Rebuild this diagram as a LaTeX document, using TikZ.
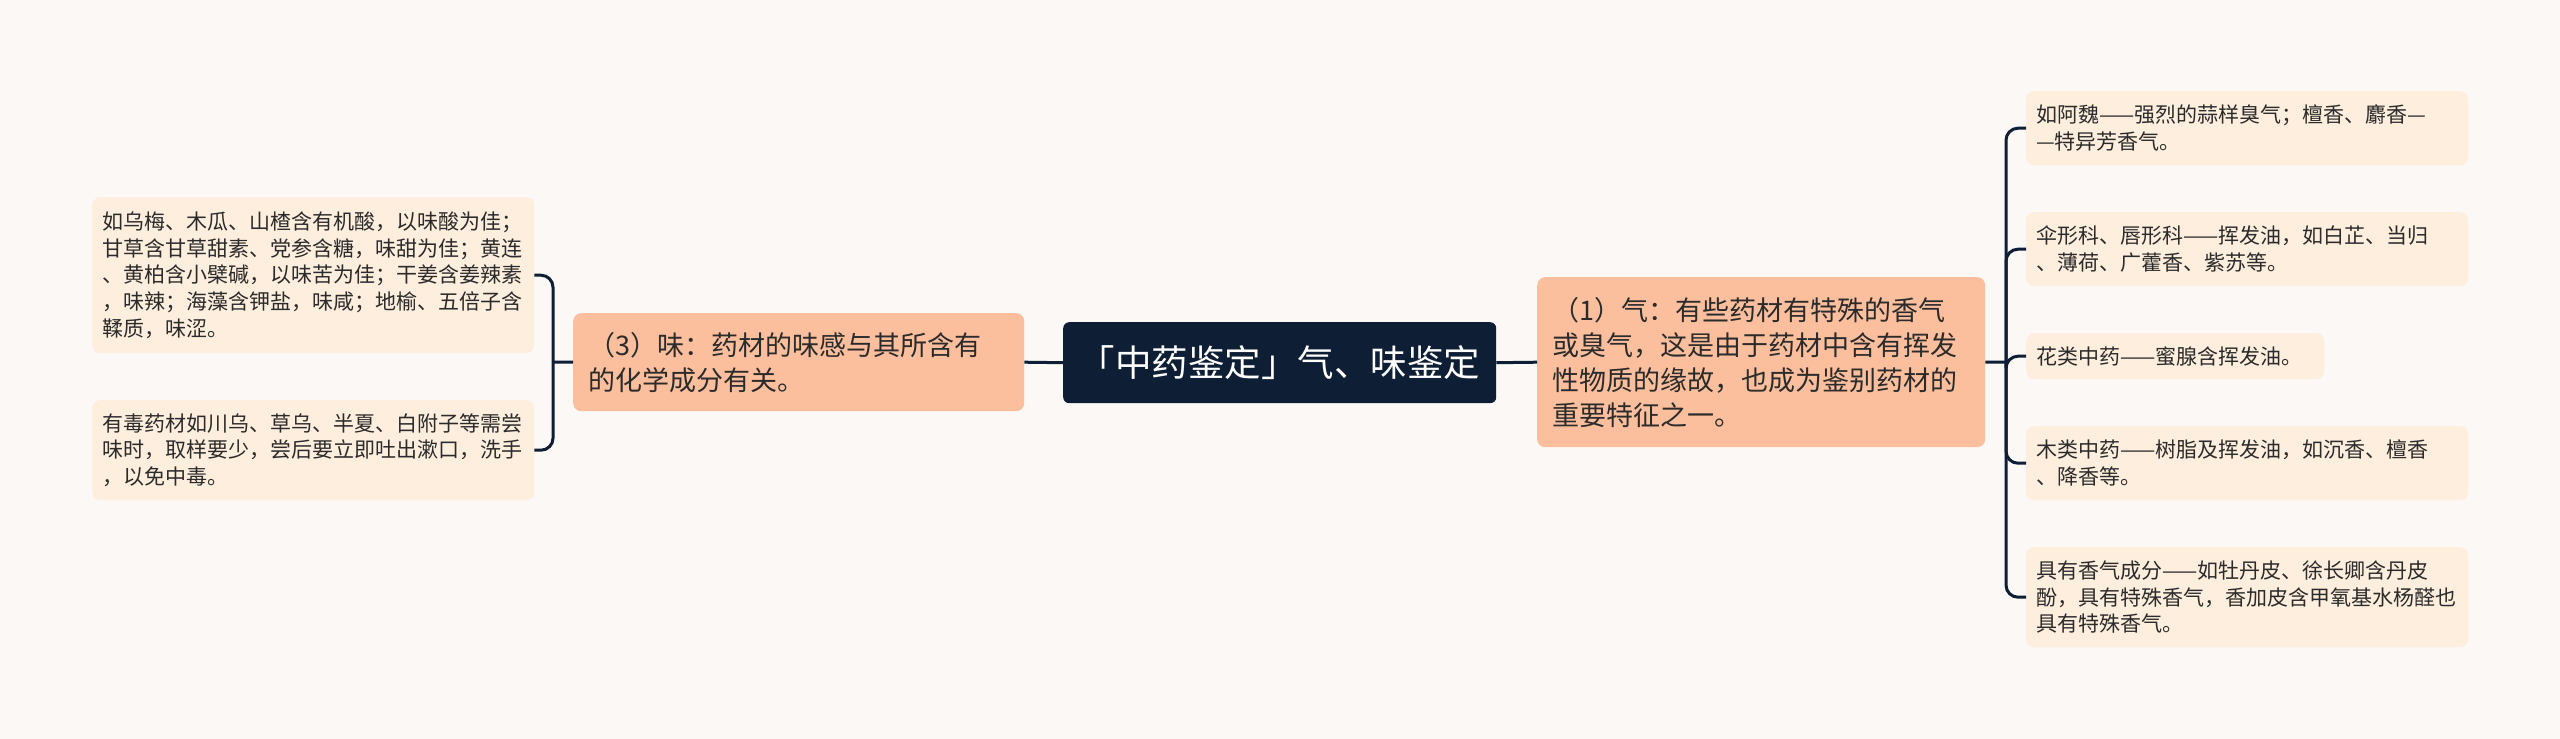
\documentclass[tikz,border=0pt]{standalone}
\usepackage{fontspec}
\setmainfont{Noto Sans CJK SC}
\definecolor{bgc}{HTML}{FCF8F6}
\definecolor{leafc}{HTML}{FDEEDD}
\definecolor{orangec}{HTML}{FCBF9E}
\definecolor{navy}{HTML}{0E1E34}
\definecolor{txt}{HTML}{2B2B2B}
\begin{document}
\begin{tikzpicture}[x=1pt,y=-1pt,
  box/.style={rounded corners=8pt, align=left, inner xsep=10pt, inner ysep=0pt, anchor=north west},
  leaf/.style={box, fill=leafc, text=txt, font=\fontsize{21}{26.7}\selectfont},
  mid/.style={box, fill=orangec, text=txt, font=\fontsize{27}{35}\selectfont, inner xsep=15pt},
  root/.style={box, fill=navy, text=white, font=\fontsize{36.5}{42}\selectfont, align=center, rounded corners=6pt},
  conn/.style={draw=navy, line width=3pt, rounded corners=12pt}]
\fill[bgc] (0,0) rectangle (2560,739);
\useasboundingbox (0,0) rectangle (2560,739);

\node[root, text width=413pt, minimum height=81pt] (C) at (1063,322) {「中药鉴定」气、味鉴定};

\node[mid, text width=421pt, minimum height=98pt] (LM) at (573,313) {（3）味：药材的味感与其所含有\\的化学成分有关。};
\node[mid, text width=418pt, minimum height=170pt] (RM) at (1537,277) {（1）气：有些药材有特殊的香气\\或臭气，这是由于药材中含有挥发\\性物质的缘故，也成为鉴别药材的\\重要特征之一。};

\node[leaf, text width=422pt, minimum height=156pt] (L1) at (92,197) {如乌梅、木瓜、山楂含有机酸，以味酸为佳；\\甘草含甘草甜素、党参含糖，味甜为佳；黄连\\、黄柏含小檗碱，以味苦为佳；干姜含姜辣素\\，味辣；海藻含钾盐，味咸；地榆、五倍子含\\鞣质，味涩。};
\node[leaf, text width=422pt, minimum height=100pt] (L2) at (92,400) {有毒药材如川乌、草乌、半夏、白附子等需尝\\味时，取样要少，尝后要立即吐出漱口，洗手\\，以免中毒。};

\node[leaf, text width=422pt, minimum height=74pt] (R1) at (2026,91) {如阿魏——强烈的蒜样臭气；檀香、麝香—\\—特异芳香气。};
\node[leaf, text width=422pt, minimum height=74pt] (R2) at (2026,212) {伞形科、唇形科——挥发油，如白芷、当归\\、薄荷、广藿香、紫苏等。};
\node[leaf, text width=278pt, minimum height=46pt] (R3) at (2026,333) {花类中药——蜜腺含挥发油。};
\node[leaf, text width=422pt, minimum height=74pt] (R4) at (2026,426) {木类中药——树脂及挥发油，如沉香、檀香\\、降香等。};
\node[leaf, text width=422pt, minimum height=100pt] (R5) at (2026,547) {具有香气成分——如牡丹皮、徐长卿含丹皮\\酚，具有特殊香气，香加皮含甲氧基水杨醛也\\具有特殊香气。};

\coordinate (lj) at (553,362);
\coordinate (rj) at (2006,362);

\draw[conn] (C.west) -- (LM.east);
\draw[conn] (C.east) -- (RM.west);
\draw[conn] (LM.west) -- (lj);
\draw[conn] (lj) |- (L1.east);
\draw[conn] (lj) |- (L2.east);
\draw[conn] (RM.east) -- (rj);
\draw[conn] (rj) |- (R1.west);
\draw[conn] (rj) |- (R2.west);
\draw[conn] (rj) |- (R3.west);
\draw[conn] (rj) |- (R4.west);
\draw[conn] (rj) |- (R5.west);
\end{tikzpicture}
\end{document}
